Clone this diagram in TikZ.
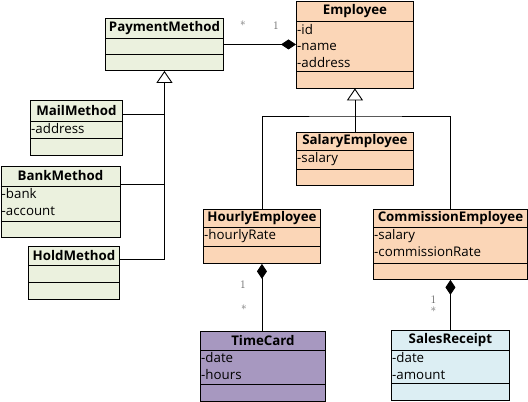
\documentclass[tikz,border=0pt]{standalone}
\usepackage{fontspec}
\setsansfont{Open Sans}
\usetikzlibrary{arrows.meta}
\definecolor{paygreen}{HTML}{EBF1DE}
\definecolor{emporange}{HTML}{FBD6B7}
\definecolor{cardpurple}{HTML}{A798C0}
\definecolor{receiptblue}{HTML}{DCEEF3}

\tikzset{
  classbox/.style={draw, line width=0.9pt, inner sep=0pt, anchor=north west},
  classtitle/.style={font=\sffamily\bfseries\fontsize{13.3}{15}\selectfont, inner sep=0pt},
  attrtext/.style={font=\sffamily\fontsize{13.3}{16.5}\selectfont, align=left, inner xsep=1pt, inner ysep=2.5pt, anchor=north west},
  mult/.style={font=\fontsize{11.5}{12}\selectfont, text=black!60, inner sep=0pt},
  inherit/.style={line width=0.9pt, -{Triangle[open,length=12pt,width=16pt]}},
  compose/.style={line width=0.9pt, {Diamond[length=15pt,width=10pt]}-},
  link/.style={line width=0.9pt}
}

% name, colour, top left, width, header h, attribute h, operation h, title, attributes
\newcommand{\umlclass}[9]{%
  \node[classbox, fill=#2, minimum width=#4pt, minimum height={(#5+#6+#7)*1pt}] (#1) at #3 {};
  \draw[link] ([yshift=-#5pt]#1.north west) -- ([yshift=-#5pt]#1.north east);
  \draw[link] ([yshift=-#5pt-#6pt]#1.north west) -- ([yshift=-#5pt-#6pt]#1.north east);
  \node[classtitle] (#1-title) at ([yshift=-#5pt/2]#1.north) {#8};
  \node[attrtext] (#1-attrs) at ([yshift=-#5pt]#1.north west) {#9};
}

\begin{document}
\begin{tikzpicture}[x=1pt,y=-1pt]
    \useasboundingbox (0,0) rectangle (528,402);

    % payment methods
    \umlclass{payment}{paygreen}{(105,18)}{118}{20}{16}{16}{PaymentMethod}{}
    \umlclass{mail}{paygreen}{(30,100)}{92}{21}{17}{17}{MailMethod}{-address}
    \umlclass{bank}{paygreen}{(0.5,166)}{119}{20}{35}{16}{BankMethod}{-bank\\-account}
    \umlclass{hold}{paygreen}{(28,246)}{91}{19}{17}{17}{HoldMethod}{}

    % employees
    \umlclass{employee}{emporange}{(296,0.5)}{117}{21}{50}{16}{Employee}{-id\\-name\\-address}
    \umlclass{salary}{emporange}{(296,132)}{117}{18}{19}{16}{SalaryEmployee}{-salary}
    \umlclass{hourly}{emporange}{(203,209)}{117}{18}{19}{17}{HourlyEmployee}{-hourlyRate}
    \umlclass{commission}{emporange}{(373,209)}{154}{18}{36}{16}{CommissionEmployee}{-salary\\-commissionRate}

    \umlclass{timecard}{cardpurple}{(200,331)}{125}{19}{34}{17}{TimeCard}{-date\\-hours}
    \umlclass{receipt}{receiptblue}{(391,330)}{118}{20}{33}{17}{SalesReceipt}{-date\\-amount}

    % generalisation of payment methods
    \coordinate (mailjoin) at ([yshift=-14pt]mail.north east);
    \coordinate (bankjoin) at ([yshift=-18pt]bank.north east);
    \coordinate (holdjoin) at ([yshift=-13pt]hold.north east);
    \draw[inherit] (holdjoin) -| (payment.south);
    \draw[link] (mailjoin) -- (mailjoin -| payment.south);
    \draw[link] (bankjoin) -- (bankjoin -| payment.south);

    % generalisation of employees
    \draw[link] (hourly.north) |- ([yshift=16pt]salary.north) -| (commission.north);
    \draw[inherit] (salary.north) -- (employee.south);

    % compositions
    \draw[compose] (employee.west) -- (payment.east);
    \node[mult] at ([xshift=19pt,yshift=19pt]payment.east) {*};
    \node[mult] at ([xshift=-20pt,yshift=19pt]employee.west) {1};

    \draw[compose] (hourly.south) -- (hourly.south |- timecard.north);
    \node[mult] at ([xshift=-19pt,yshift=-21pt]hourly.south) {1};
    \node[mult] at ([xshift=-19pt,yshift=22pt]timecard.north) {*};

    \draw[compose] (commission.south) -- (commission.south |- receipt.north);
    \node[mult] at ([xshift=-17pt,yshift=-20pt]commission.south) {1};
    \node[mult] at ([xshift=-17pt,yshift=19pt]receipt.north) {*};

\end{tikzpicture}
\end{document}
